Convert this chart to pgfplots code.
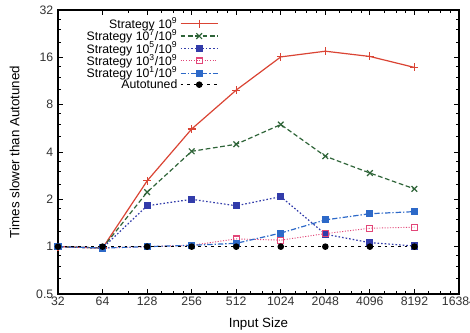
\documentclass[border=0pt]{standalone}
\usepackage{pgfplots}
\pgfplotsset{compat=1.18}
\usepackage{fontspec}
\setmainfont{Liberation Sans}
\definecolor{cred}{RGB}{218,68,52}
\definecolor{cgreen}{RGB}{46,100,56}
\definecolor{cblue}{RGB}{50,60,170}
\definecolor{cpink}{RGB}{226,70,120}
\definecolor{cblue2}{RGB}{45,105,200}
\begin{document}
\begin{tikzpicture}
\begin{axis}[
  scale only axis, width=300.75pt, height=213pt,
  xmode=log, ymode=log,
  xmin=32, xmax=16384, ymin=0.5, ymax=32,
  xtick={32,64,128,256,512,1024,2048,4096,8192,16384},
  xticklabels={32,64,128,256,512,1024,2048,4096,8192,16384},
  ytick={0.5,1,2,4,8,16,32},
  yticklabels={0.5,1,2,4,8,16,32},
  minor xtick={96,160,192,224,320,384,448,640,768,896,1280,1536,1792,2560,3072,3584,5120,6144,7168,10240,12288,14336},
  minor ytick={0.625,0.75,0.875,1.25,1.5,1.75,2.5,3,3.5,5,6,7,10,12,14,20,24,28},
  tick align=inside, major tick length=3.5pt, minor tick length=2pt,
  every tick/.style={black, line width=0.6pt},
  axis line style={line width=0.8pt},
  tick label style={font=\fontsize{9.2}{11}\selectfont, text=black!80},
  xticklabel style={yshift=1.5pt},
  /pgf/number format/assume math mode=true,
  xlabel={Input Size}, ylabel={Times slower than Autotuned},
  label style={font=\fontsize{9.2}{11}\selectfont, text=black!80},
  every axis x label/.style={at={(axis description cs:0.5,-0.106)}, anchor=center},
  every axis y label/.style={at={(axis description cs:-0.108,0.5)}, anchor=center, rotate=90},
  legend style={draw=none, fill=none, at={(rel axis cs:0.404,0.99)}, anchor=north east,
    font=\fontsize{9.2}{9}\selectfont, cells={anchor=east}, row sep=-4.5pt, inner sep=1pt},
  legend plot pos=right,
  legend image code/.code={\draw[mark repeat=2,mark phase=2,#1] plot coordinates {(0cm,0cm) (0.49cm,0cm) (0.98cm,0cm)};},
  every axis plot/.append style={line width=0.9pt},
]
\addplot[cred, mark=+, mark size=3pt, mark options={solid}] coordinates {
(32,1) (64,0.98) (128,2.62) (256,5.6) (512,9.9) (1024,16.1) (2048,17.5) (4096,16.2) (8192,13.8)};
\addlegendentry{Strategy 10\textsuperscript{9}}
\addplot[cgreen, dashed, dash pattern=on 3.5pt off 2pt, mark=x, mark size=3pt, mark options={solid}] coordinates {
(32,1) (64,0.98) (128,2.22) (256,4.04) (512,4.48) (1024,5.98) (2048,3.76) (4096,2.94) (8192,2.33)};
\addlegendentry{Strategy 10\textsuperscript{7}/10\textsuperscript{9}}
\addplot[cblue, dash pattern=on 1.2pt off 1.5pt, mark=square*, mark size=2.2pt, mark options={solid}] coordinates {
(32,1) (64,0.98) (128,1.82) (256,2.0) (512,1.82) (1024,2.08) (2048,1.20) (4096,1.06) (8192,1.01)};
\addlegendentry{Strategy 10\textsuperscript{5}/10\textsuperscript{9}}
\addplot[cpink, line width=0.7pt, dash pattern=on 0.8pt off 1.2pt, mark=square, mark size=2.2pt, mark options={solid, line width=0.8pt}] coordinates {
(32,1) (64,0.98) (128,1.0) (256,1.02) (512,1.12) (1024,1.10) (2048,1.21) (4096,1.31) (8192,1.33)};
\addlegendentry{Strategy 10\textsuperscript{3}/10\textsuperscript{9}}
\addplot[cblue2, dash pattern=on 4pt off 1.5pt on 1pt off 1.5pt, mark=square*, mark size=2.2pt, mark options={solid}] coordinates {
(32,1) (64,0.98) (128,1.0) (256,1.02) (512,1.05) (1024,1.22) (2048,1.48) (4096,1.62) (8192,1.67)};
\addlegendentry{Strategy 10\textsuperscript{1}/10\textsuperscript{9}}
\addplot[black, dash pattern=on 2pt off 3pt, mark=*, mark size=2pt, mark options={solid}] coordinates {
(32,1) (64,1) (128,1) (256,1) (512,1) (1024,1) (2048,1) (4096,1) (8192,1)};
\addlegendentry{Autotuned}
\end{axis}
\pgfresetboundingbox
\path[use as bounding box] ([xshift=-43.5pt,yshift=-29.25pt]current axis.south west) rectangle ([xshift=8.25pt,yshift=7.5pt]current axis.north east);
\end{tikzpicture}
\end{document}
